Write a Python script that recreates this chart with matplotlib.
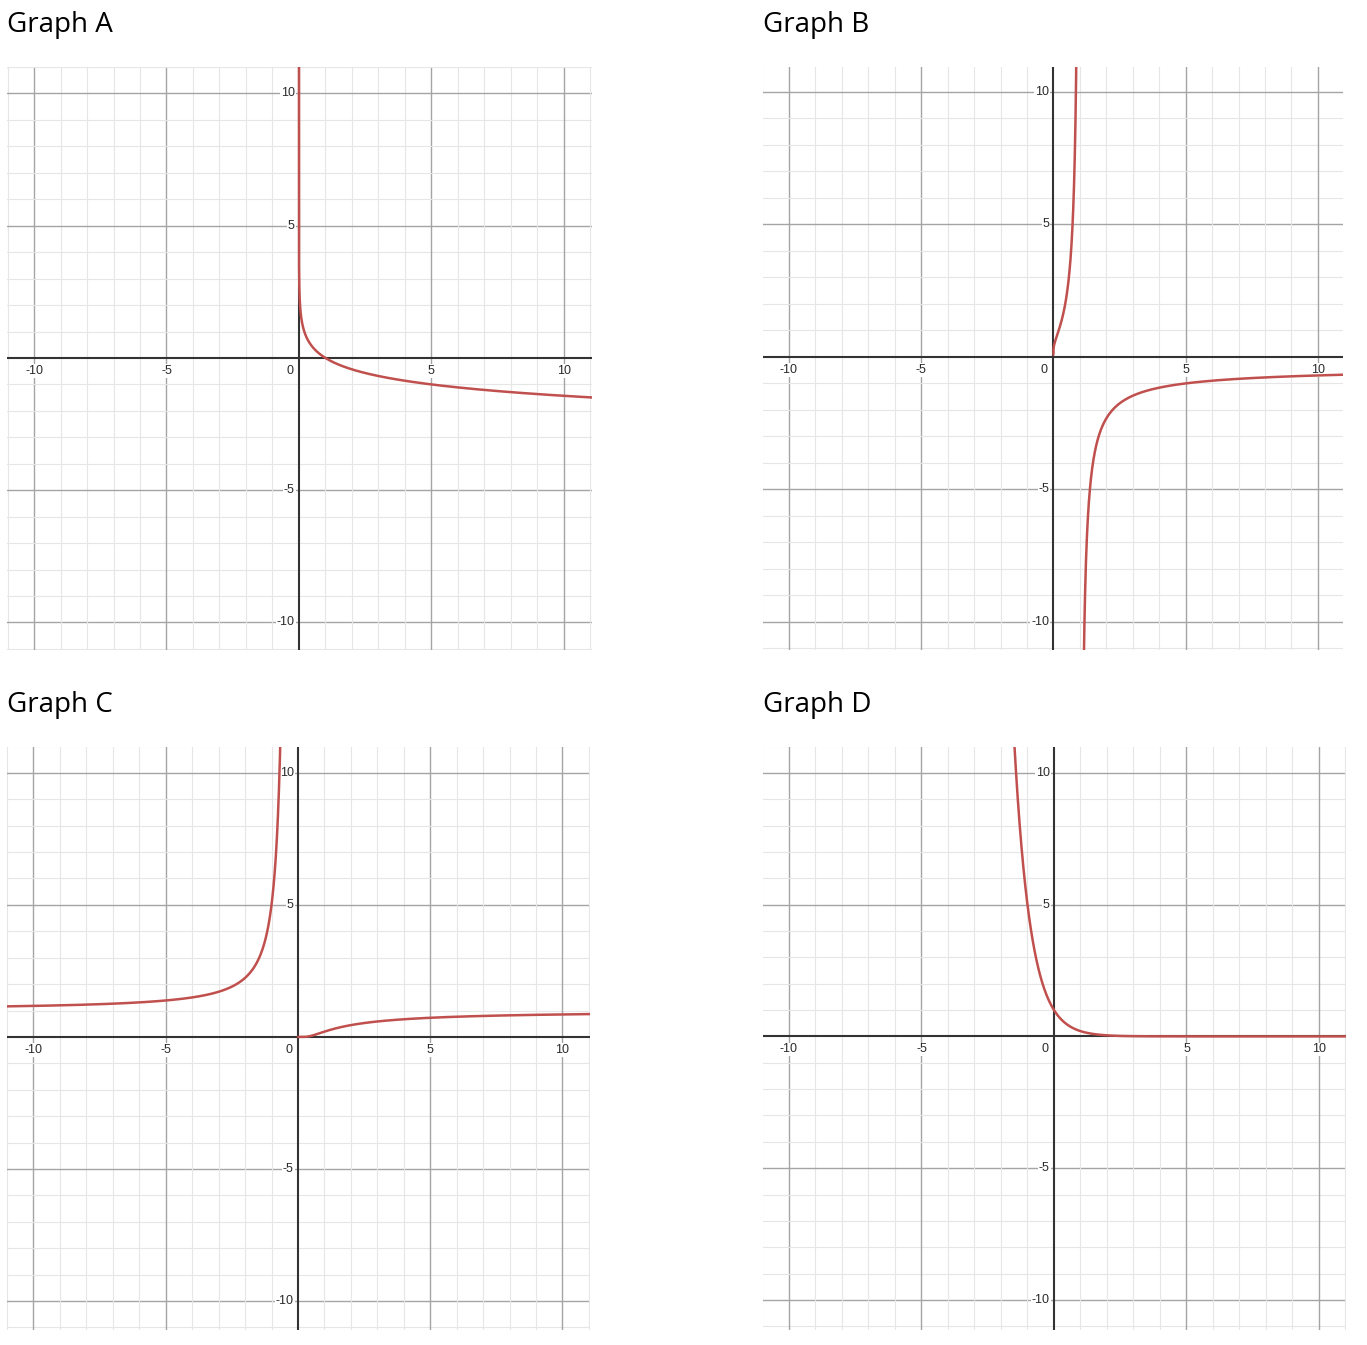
import numpy as np
import matplotlib
matplotlib.use("Agg")
import matplotlib.pyplot as plt

# ---- data ----
titles = ["Graph A", "Graph B", "Graph C", "Graph D"]
base = 5                      # base (passes (1,0), (5,-1), (-1,5) ...)
tick_values = [-10, -5, 5, 10]
tick_labels = ["-10", "-5", "5", "10"]

# axes placement in pixels (left, right, top, bottom) and data limits (xmin, xmax, ymin, ymax)
W, H = 1367, 1345
panel_px = [(7, 592, 67, 650), (763, 1343, 67, 650), (7, 590, 747, 1330), (763, 1346, 747, 1330)]
panel_lim = [(-11.02, 11.06, -11.04, 11.0), (-10.98, 10.95, -11.06, 10.94),
             (-11.0, 11.04, -11.1, 10.98), (-10.98, 11.02, -11.14, 10.98)]

CURVE = "#c0504d"


def branches(i):
    with np.errstate(all="ignore"):
        if i == 0:   # y = -log_base(x)
            x = np.concatenate([np.logspace(-10, -1, 400), np.linspace(0.1, 11.2, 600)])
            return [(x, -np.log(x) / np.log(base))]
        if i == 1:   # y = log_x(1/base)
            x1 = np.concatenate([np.logspace(-8, -1, 300), np.linspace(0.1, 0.999, 500)])
            x2 = np.linspace(1.001, 11.2, 1500)
            f = lambda x: -np.log(base) / np.log(x)
            return [(x1, f(x1)), (x2, f(x2))]
        if i == 2:   # y = base^(-1/x)
            x1 = np.linspace(-11.2, -0.3, 1500)
            x2 = np.linspace(0.001, 11.2, 1500)
            f = lambda x: np.power(float(base), -1.0 / x)
            return [(x1, f(x1)), (x2, f(x2))]
        # y = base^(-x)
        x = np.linspace(-2, 11.2, 1500)
        return [(x, np.power(float(base), -x))]


fig = plt.figure(figsize=(W / 100, H / 100), dpi=100)
LABEL_FONT = ["Liberation Sans", "DejaVu Sans"]

for i in range(4):
    l, r, t, b = panel_px[i]
    ax = fig.add_axes([l / W, 1 - b / H, (r - l) / W, (b - t) / H])
    xmin, xmax, ymin, ymax = panel_lim[i]
    ax.set_xlim(xmin, xmax)
    ax.set_ylim(ymin, ymax)
    for s in ax.spines.values():
        s.set_visible(False)
    ax.set_xticks([])
    ax.set_yticks([])

    for v in range(-11, 12):
        if v == 0:
            continue
        major = (v % 5 == 0)
        col = "#a4a4a4" if major else "#e6e6e6"
        lw = 1.0 if major else 0.8
        ax.axvline(v, color=col, lw=lw, zorder=1)
        ax.axhline(v, color=col, lw=lw, zorder=1)
    ax.axhline(0, color="#333333", lw=1.5, zorder=2)
    ax.axvline(0, color="#333333", lw=1.5, zorder=2)

    bbox = dict(facecolor="white", edgecolor="none", pad=0.5)
    for v, lab in zip(tick_values, tick_labels):
        ax.annotate(lab, (v, 0), xytext=(0, -5), textcoords="offset points",
                    ha="center", va="top", fontsize=9, color="#2a2a2a",
                    family=LABEL_FONT, bbox=bbox, zorder=3)
        ax.annotate(lab, (0, v), xytext=(-3, 0), textcoords="offset points",
                    ha="right", va="center", fontsize=9, color="#2a2a2a",
                    family=LABEL_FONT, bbox=bbox, zorder=3)
    ax.annotate("0", (0, 0), xytext=(-4, -5), textcoords="offset points",
                ha="right", va="top", fontsize=9, color="#2a2a2a",
                family=LABEL_FONT, zorder=3)

    for x, y in branches(i):
        ax.plot(x, y, color=CURVE, lw=1.8, zorder=4, solid_capstyle="round")

    fig.text(l / W, 1 - (t - 35) / H, titles[i], ha="left", va="baseline",
             fontsize=20, family="Open Sans", color="black")

fig.savefig("out.png", dpi=100)
